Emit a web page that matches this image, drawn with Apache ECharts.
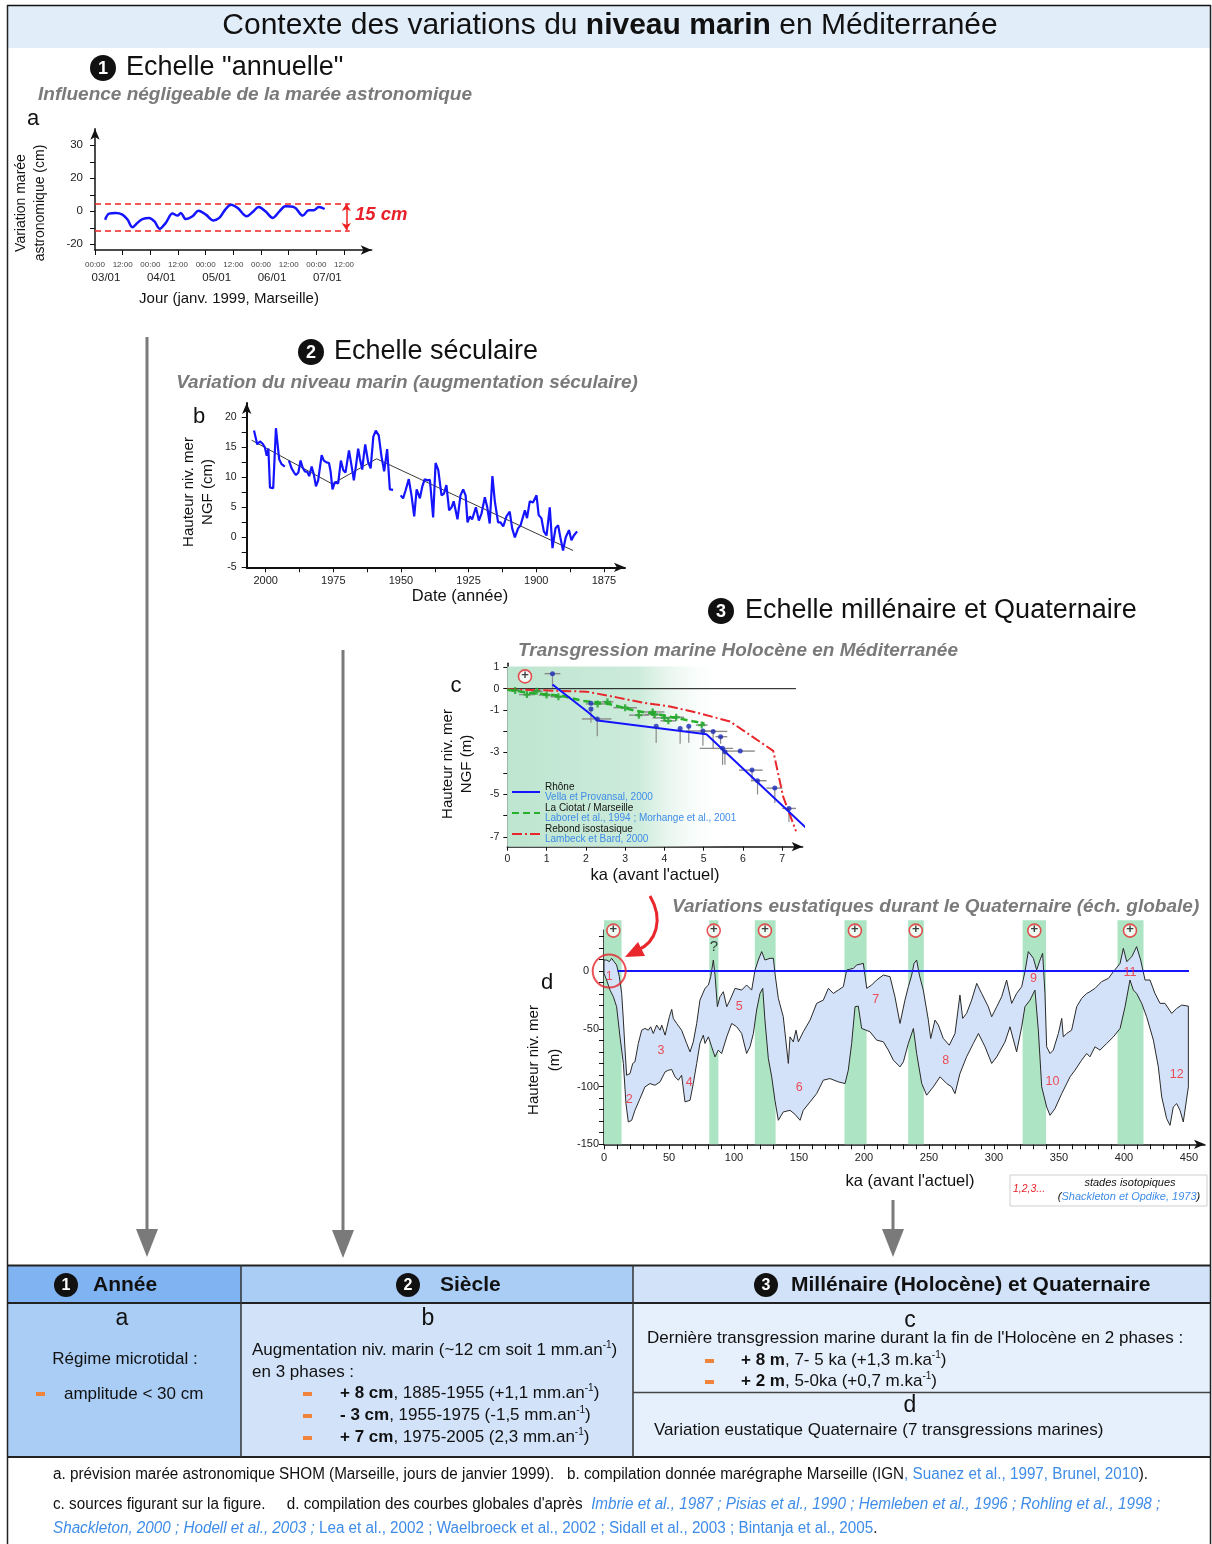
<!DOCTYPE html>
<html><head><meta charset="utf-8">
<script src="https://cdn.jsdelivr.net/npm/echarts@6/dist/echarts.min.js"></script>
<style>html,body{margin:0;padding:0;background:#fff}#c{width:1212px;height:1544px}</style>
</head><body><div id="c"></div><script>
// ---------- DATA : chart a (marée astronomique) ----------
const aHours = [4.4,6.1,9.0,11.9,14.1,16.2,18.4,20.6,23.5,25.7,28.1,30.7,33.6,35.8,37.2,39.4,42.3,44.9,48.1,51.3,53.9,56.5,59.0,61.9,65.8,68.4,71.0,73.9,77.1,80.0,82.6,86.5,90.1,92.7,94.8,97.1,99.6];
const aTide = [-5.1,-1.4,-1.0,-2.0,-5.0,-9.6,-7.0,-4.7,-4.0,-6.0,-10.6,-7.0,-1.4,-2.6,-1.0,-4.7,-3.0,0.4,-2.0,-5.5,-4.0,1.0,4.0,2.0,-3.0,-0.4,2.6,0.0,-4.0,0.0,3.0,2.4,-2.6,0.6,0.6,2.6,1.4];
const aRange = [4.8, -11.8];
const aTickHours = [0,12,24,36,48,60,72,84,96,108];
const aTickTimes = ['00:00','12:00','00:00','12:00','00:00','12:00','00:00','12:00','00:00','12:00'];
const aDateHours = [0,24,48,72,96];
const aDates = ['03/01','04/01','05/01','06/01','07/01'];
const aYTicks = [-20,-10,0,10,20,30,40];
const aYLabelValues = [-20,0,20,40];
const aYLabels = ['-20','0','20','30'];

// ---------- DATA : chart b (marégraphe Marseille) ----------
const bYears = [2004.3,2003.1,2002.1,2001.1,2000.3,1999.6,1999.0,1998.4,1997.2,1996.2,1995.0,1994.1,1992.9,1992.2,1991.4,1990.4,1989.5,1988.8,1987.9,1987.1,1986.3,1985.5,1984.6,1983.9,1983.0,1982.2,1981.4,1980.6,1979.3,1978.5,1977.5,1976.6,1976.0,1975.3,1974.4,1973.2,1972.2,1971.3,1970.5,1969.2,1968.2,1967.4,1966.6,1965.8,1965.2,1964.3,1963.9,1963.2,1962.1,1961.2,1960.2,1959.3,1958.2,1957.2,1956.2,1955.1,1954.1,1952.9,1951.5,1950.1,1949.2,1948.3,1947.1,1946.1,1945.1,1944.2,1943.6,1943.0,1942.1,1941.2,1940.3,1939.3,1938.1,1937.2,1936.2,1935.0,1934.1,1933.2,1932.2,1931.3,1930.5,1929.1,1928.0,1927.0,1926.1,1925.4,1924.5,1923.7,1922.3,1921.2,1920.2,1919.0,1918.1,1917.2,1916.2,1915.3,1914.1,1913.2,1912.2,1911.0,1909.8,1908.9,1907.9,1906.7,1905.8,1905.1,1904.2,1903.4,1902.4,1901.2,1899.9,1899.1,1898.1,1897.2,1896.2,1895.0,1894.0,1892.9,1891.9,1891.1,1890.1,1889.1,1887.9,1887.0,1886.1,1884.9];
const bLevel = [17.8,15.5,16.0,15.6,15.0,13.6,14.8,8.3,8.2,18.2,13.0,12.2,11.8,null,12.8,11.5,10.8,10.4,10.8,12.8,11.6,11.0,10.9,10.2,11.8,10.5,8.5,9.5,13.7,12.8,12.5,12.4,11.0,8.0,9.2,9.0,12.8,11.2,10.8,14.5,11.8,9.5,12.0,14.8,13.2,11.3,13.0,15.5,12.5,11.5,16.8,17.8,17.0,13.5,11.0,14.7,8.0,7.9,null,7.0,6.5,7.8,9.7,7.0,3.5,8.0,7.3,6.5,8.5,9.7,9.5,9.6,3.3,12.4,11.2,7.0,7.3,8.7,4.5,5.0,6.0,3.0,7.0,8.0,7.0,2.5,3.5,3.0,5.0,2.8,4.0,6.7,5.0,2.3,10.2,6.0,2.5,2.5,1.8,3.5,4.3,1.5,0.0,1.5,2.0,2.0,4.5,3.2,6.0,5.8,7.0,3.7,3.2,1.0,0.3,5.0,-1.8,1.5,2.0,0.0,-2.2,0.0,1.2,-0.5,0.3,1.0];
const bTrendYears = [2005.2,1975.4,1959.0,1886.4];
const bTrendLevel = [16.2,8.9,13.1,-2.2];
const bYTicks = [-5,-2.5,0,2.5,5,7.5,10,12.5,15,17.5,20];
const bYLabels = [-5,0,5,10,15,20];
const bXTicks = [1875,1887.5,1900,1912.5,1925,1937.5,1950,1962.5,1975,1987.5,2000];
const bXLabels = [1875,1900,1925,1950,1975,2000];

// ---------- DATA : chart c (Holocène) ----------
const cRhone = [[1.15,0.2],[2.05,-1.1],[2.3,-1.5],[5.07,-2.15],[7.66,-6.67]];
const cCiotat = [[0.0,-0.05],[0.58,-0.2],[1.0,-0.27],[1.42,-0.35],[1.93,-0.58],[2.52,-0.69],[2.86,-0.85],[3.28,-1.05],[3.79,-1.2],[4.3,-1.38],[4.72,-1.54],[5.02,-1.65]];
const cRebond = [[0.0,-0.03],[2.02,-0.14],[2.78,-0.41],[3.55,-0.69],[4.14,-0.84],[4.82,-1.13],[5.67,-1.55],[6.77,-2.94],[7.02,-5.09],[7.35,-6.74]];
// [ka, m, ka min, ka max, m min, m max]
const cBluePts = [[1.15,0.71,0.95,1.35,0.05,0.71],[2.13,-0.69,2.13,2.13,-0.69,-0.69],[2.13,-0.96,2.13,2.13,-1.6,-0.96],[2.29,-1.43,1.9,2.65,-2.25,-1.43],[3.79,-1.78,3.79,3.79,-2.55,-1.78],[4.40,-1.88,4.40,4.40,-2.6,-1.88],[4.62,-1.78,4.62,4.62,-2.55,-1.78],[4.98,-2.0,4.55,5.3,-2.7,-2.0],[5.24,-2.02,4.9,5.6,-2.8,-2.02],[5.43,-2.27,5.3,5.6,-2.6,-2.27],[5.48,-2.82,4.9,5.75,-3.6,-2.82],[5.54,-2.98,5.54,5.54,-3.6,-2.98],[5.93,-2.95,5.55,6.3,-2.95,-2.95],[6.23,-3.85,5.9,6.5,-4.3,-3.85],[6.37,-4.35,6.2,6.6,-5.0,-4.35],[6.81,-4.7,6.6,7.0,-5.4,-4.7],[7.17,-5.66,7.0,7.35,-6.3,-5.66]];
const cGreenPts = [[0.2,-0.08,0.05,0.35,-0.15,0.0],[0.5,-0.28,0.3,0.7,-0.4,-0.15],[0.75,-0.12,0.6,0.9,-0.2,-0.05],[1.0,-0.3,0.8,1.25,-0.4,-0.2],[1.3,-0.38,1.1,1.6,-0.45,-0.3],[2.3,-0.72,2.0,2.6,-0.8,-0.65],[2.55,-0.62,2.4,2.7,-0.7,-0.55],[3.0,-0.9,2.7,3.3,-1.0,-0.8],[3.35,-1.25,3.1,3.6,-1.35,-1.15],[3.7,-1.1,3.4,4.0,-1.3,-0.95],[3.75,-1.22,3.5,4.0,-1.35,-1.1],[4.0,-1.38,3.7,4.3,-1.5,-1.25],[4.1,-1.52,3.9,4.3,-1.6,-1.45],[4.3,-1.35,4.1,4.5,-1.45,-1.25],[4.95,-1.72,4.8,5.1,-1.8,-1.65]];
const cPlus = [[0.45,0.58]];
const cZeroLine = [[0,0],[7.35,0]];
const cShade = [0, 1.05, 5.6, -7.47];
const cLegendNames = ['Rhône','La Ciotat / Marseille','Rebond isostasique'];
const cLegendSources = ['Vella et Provansal, 2000','Laborel et al., 1994 ; Morhange et al., 2001','Lambeck et Bard, 2000'];
const cYTicks = [-7,-6,-5,-4,-3,-2,-1,0,1];
const cYLabels = [-7,-5,-3,-1,0,1];
const cXTicks = [0,1,2,3,4,5,6,7];

// ---------- DATA : chart d (Quaternaire) ----------
const dUpper = [[0,9.5],[2,9.5],[4.1,8.1],[5.9,11],[7.7,8.1],[9.7,5.2],[11.8,-4.9],[13.6,-19.4],[14.9,-42.5],[16.2,-68.5],[17.4,-90.2],[20,-88.8],[22.1,-80],[23.8,-78.6],[26.4,-62.7],[29,-51.2],[31.5,-49.7],[34.1,-51.2],[35.9,-48.3],[37.9,-54.1],[40.5,-46.8],[43.1,-51.2],[44.4,-46.8],[47,-55.5],[50.3,-39.6],[52.1,-33.2],[53.3,-41],[55.9,-45.4],[59.7,-51.2],[63.6,-62.7],[66.2,-70],[68.7,-61.3],[71.3,-45.4],[73.8,-25.2],[77.7,-15],[80.3,-12.1],[82.1,-4.9],[84.1,9.5],[85.4,-3.5],[87.2,-30.9],[89.2,-22.3],[91.8,-17.9],[94.4,-30.9],[96.9,-25.2],[100.8,-15],[105.9,-16.5],[109.7,-12.1],[113.6,-16.5],[116.2,0.9],[118.7,9.5],[121.3,16.8],[123.8,9.5],[127.7,11],[130.3,11],[131.5,-2],[134.1,-23.7],[137.9,-39.6],[141.8,-80],[143.1,-57],[145.6,-61.3],[147.7,-51.2],[149.5,-61.3],[153.3,-52.6],[158.5,-42.5],[163.6,-28],[168.7,-25.2],[172.6,-15],[176.4,-19.4],[180.3,-16.5],[184.1,-13.6],[186.7,0.9],[188.7,1.4],[191.8,2.3],[194.4,5.2],[199.5,6.6],[202.1,-15],[205.9,-12.1],[209.7,-7.8],[214.9,-3.5],[220,-4.9],[223.8,-22.3],[227.7,-45.4],[231.5,-25.2],[234.1,-13.6],[236.7,-3.5],[238.5,6.6],[240.5,9.5],[242.6,-3.5],[245.6,-16.5],[249.5,-42.5],[251.3,-58.4],[254.6,-42.5],[257.2,-46.8],[261,-58.4],[265.6,-64.2],[270,-54.1],[273.8,-20.8],[275.9,-41],[278.9,-36.7],[282.8,-25.2],[286.7,-10.7],[290.5,-19.4],[295.6,-30.9],[298.2,-39.6],[302.1,-30.9],[305.9,-22.3],[309.7,-7.8],[313.6,-28],[317.4,-19.4],[321.3,-13.6],[323.8,-0.6],[326.4,16.8],[330.3,11],[332.8,0.9],[335.4,9.5],[337.4,15.3],[339.2,-19.4],[340.5,-65.6],[343.1,-71.4],[345.6,-68.5],[349.5,-54.1],[352.1,-41],[353.3,-57],[355.9,-54.1],[359.7,-51.2],[363.6,-30.9],[367.4,-23.7],[371.3,-19.4],[373.8,-17.9],[377.7,-15],[382.8,-9.2],[388,-6.4],[391.8,-0.6],[397,6.6],[399.5,19.7],[402.1,8.1],[406,12.4],[409.7,21.1],[412.8,9.5],[416.2,-7.8],[420,-7.8],[423.8,-19.4],[427.7,-28],[431.5,-28],[436.7,-36.7],[440.5,-32.4],[444.4,-29.5],[449.5,-30.4]];
const dLower = [[0,-2],[2,-7.8],[4.6,-16.5],[7.2,-22.3],[9.7,-30.9],[12.3,-57],[14.9,-80],[16.9,-114.8],[18.7,-130.7],[21.3,-129.2],[23.8,-120.6],[27.7,-110.4],[31.5,-100.3],[35.4,-97.4],[39.2,-98.9],[43.1,-96],[47,-87.3],[49.5,-85.9],[52.1,-85.3],[54.6,-91.6],[57.2,-94.5],[59.7,-90.2],[62.3,-113.3],[66.2,-111.9],[68.7,-97.4],[71.3,-80],[73.8,-62.7],[76.4,-55.5],[77.7,-62.7],[80.3,-57],[82.8,-65.6],[85.4,-74.3],[87.9,-68.5],[90.5,-71.4],[94.4,-57],[98.2,-45.4],[102.1,-48.3],[105.9,-54.1],[109.7,-71.4],[112.3,-65.6],[114.9,-54.1],[117.4,-33.8],[120,-19.4],[122.1,-15],[123.8,-42.5],[126.4,-75.7],[129,-91.6],[131.5,-111.9],[134.1,-129.2],[137.9,-122],[143.1,-120.6],[146.9,-124],[150.8,-129.2],[153.3,-120.6],[158.5,-113.3],[163.6,-106.1],[168.7,-94.5],[173.8,-93.1],[180.3,-96],[185.4,-97.4],[187.9,-85.9],[190.5,-62.7],[193.1,-30.9],[195.6,-30.4],[198.2,-49.7],[204.6,-52.6],[209.7,-59.8],[214.9,-61.3],[218.7,-68.5],[222.6,-77.2],[227.7,-83],[230.3,-78.6],[234.1,-62.7],[238,-49.7],[240.5,-71.4],[244.4,-97.4],[248.2,-107.5],[253.3,-100.3],[258.5,-91.6],[263.6,-97.4],[267.4,-100.3],[270,-106.1],[273.8,-88.8],[278.9,-74.3],[284.1,-62.7],[288,-54.1],[293.1,-65.6],[298.2,-80],[302.1,-74.3],[308.5,-61.3],[312.3,-48.3],[317.4,-70],[321.3,-48.3],[323.8,-30.9],[327.7,-25.2],[331.5,-16.5],[334.1,-51.2],[336.7,-100.3],[340.5,-117.7],[343.1,-124.9],[346.9,-119.1],[352.1,-106.1],[358.5,-91.6],[362.3,-85.9],[367.4,-77.2],[371.3,-71.4],[373.8,-74.3],[377.7,-65.6],[381.5,-68.5],[386.7,-62.7],[391.8,-57],[397,-49.7],[400.8,-30.9],[404.6,-7.8],[407.2,-16.5],[409.7,-19.4],[413.6,-28],[417.4,-39.6],[422.6,-59.8],[426.4,-83],[429,-109],[432.8,-127.8],[435.4,-133.6],[437.9,-117.7],[440.5,-114.8],[443.1,-120.6],[445.6,-130.7],[449.5,-100.3]];
const dBands = [[0,13.5],[81,88],[116,132],[185,202],[234,246],[322,340],[395,415]];
const dBandTop = 44;
const dPlus = [[7.2,35],[84.4,35],[123.8,35],[193,35],[239.8,35],[331,35],[404.6,35]];
const dStages = [[4,-5,'1'],[19.5,-111,'2'],[43.8,-68.5,'3'],[65.6,-96.9,'4'],[104,-30.4,'5'],[150.2,-100.9,'6'],[209,-24.6,'7'],[262.8,-77.8,'8'],[330.3,-6.4,'9'],[344.9,-96,'10'],[404.6,-1.4,'11'],[440.5,-89.6,'12']];
const dQuestion = [[84.6,21]];
const dStage1Circle = [[4,0]];
const dZeroLine = [[10.5,0],[450,0]];
const dYTicks = [-150,-140,-130,-120,-110,-100,-90,-80,-70,-60,-50,-40,-30,-20,-10,0,10,20,30];
const dYLabels = [-150,-100,-50,0];
const dXTicks = []; for (let v = 0; v <= 450; v += 10) dXTicks.push(v);
const dXLabels = [0,50,100,150,200,250,300,350,400,450];

// ---------- footer texts ----------
const foot1 = ['a. prévision marée astronomique SHOM (Marseille, jours de janvier 1999).   b. compilation donnée marégraphe Marseille (IGN', ', Suanez et al., 1997, Brunel, 2010', ').'];
const foot2 = ["c. sources figurant sur la figure.     d. compilation des courbes globales d'après  ", 'Imbrie et al., 1987 ; Pisias et al., 1990 ; Hemleben et al., 1996 ; Rohling et al., 1998 ;'];
const foot3 = ['Shackleton, 2000 ; Hodell et al., 2003 ;', ' Lea et al., 2002 ; Waelbroeck et al., 2002 ; Sidall et al., 2003 ; Bintanja et al., 2005', '.'];

// ---------- helpers ----------
const FF = '"Liberation Sans", Arial, Helvetica, sans-serif';
const BLUE_REF = '#3f8ce8';
const ORANGE = '#f0843a';
function rs(o) { if (o.color) o.fill = o.color; return o; }   // rich style for graphic text (zrender uses fill)
function txt(x, y, text, size, o) {
  o = o || {};
  const st = { text: text, fill: o.color || '#111', fontSize: size, fontFamily: o.ff || FF,
    fontWeight: o.bold ? 'bold' : 'normal', fontStyle: o.italic ? 'italic' : 'normal',
    align: o.align || 'left', verticalAlign: o.va || 'middle',
    textAlign: o.align || 'left', textVerticalAlign: o.va || 'middle' };
  if (o.rich) { const r = {}; Object.keys(o.rich).forEach(k => { r[k] = rs(Object.assign({}, o.rich[k])); }); st.rich = r; }
  if (o.lh) st.lineHeight = o.lh;
  const el = { type: 'text', x: x, y: y, rotation: o.rot || 0, z: 20, silent: true, style: st };
  if (o.sx) el.scaleX = o.sx;
  return el;
}
function rect(x, y, w, h, fill, o) {
  o = o || {};
  return { type: 'rect', shape: { x: x, y: y, width: w, height: h }, z: o.z || 5, silent: true,
    style: { fill: fill, stroke: o.stroke || null, lineWidth: o.lw || 0 } };
}
function line(x1, y1, x2, y2, color, w, z) {
  return { type: 'line', shape: { x1: x1, y1: y1, x2: x2, y2: y2 }, z: z || 6, silent: true,
    style: { stroke: color, lineWidth: w } };
}
function numCircle(cx, cy, r, n, size) {
  return [
    { type: 'circle', shape: { cx: cx, cy: cy, r: r }, z: 19, silent: true, style: { fill: '#111' } },
    txt(cx, cy + 1, n, size, { color: '#fff', bold: true, align: 'center' })
  ];
}
function grayArrow(x, y1, y2) {
  return [
    line(x, y1, x, y2 - 26, '#7a7a7a', 3, 6),
    { type: 'polygon', shape: { points: [[x - 11, y2 - 28], [x + 11, y2 - 28], [x, y2]] }, z: 6, silent: true, style: { fill: '#7a7a7a' } }
  ];
}
function pick(vals, labels) { return function (v) { const i = vals.indexOf(v); return i < 0 ? '' : String(labels[i]); }; }
const axisCol = '#111';
function vAxis(o) {
  return Object.assign({
    type: 'value', splitLine: { show: false }, scale: false,
    axisLine: { show: true, onZero: false, lineStyle: { color: axisCol, width: 1.5 } },
    axisTick: { show: true, length: 4, lineStyle: { color: axisCol, width: 1 } },
    axisLabel: { color: '#222', fontFamily: FF, fontSize: 10 }
  }, o);
}
function errRender(params, api) {
  const x = api.value(0), y = api.value(1);
  const a = api.coord([api.value(2), y]), b = api.coord([api.value(3), y]);
  const c = api.coord([x, api.value(4)]), d = api.coord([x, api.value(5)]);
  return { type: 'group', children: [
    { type: 'line', shape: { x1: a[0], y1: a[1], x2: b[0], y2: b[1] }, style: { stroke: '#8a8a8a', lineWidth: 1.4 } },
    { type: 'line', shape: { x1: c[0], y1: c[1], x2: d[0], y2: d[1] }, style: { stroke: '#8a8a8a', lineWidth: 1.2 } }
  ] };
}
const plusLabel = { show: true, formatter: '+', position: 'inside', color: '#111', fontSize: 13, fontWeight: 'bold', fontFamily: FF, offset: [0, -1] };

// footer horizontal compression computed from text measure (narrow font look)
const mctx = document.createElement('canvas').getContext('2d');
mctx.font = '16px "Liberation Sans"';
const footScale = Math.min(1, 1095 / mctx.measureText(foot1.join('')).width);

// ---------- graphic (texts, frame, table) ----------
const G = [];
G.push(rect(7, 5, 1204, 43, '#e2edfa', { z: 1 }));
G.push(line(7, 5.5, 1211, 5.5, '#111', 1.5, 7));
G.push(line(7.5, 5, 7.5, 1544, '#222', 1.5, 7));
G.push(line(1210.5, 5, 1210.5, 1544, '#222', 1.5, 7));
G.push(txt(610, 26, '{r|Contexte des variations du }{b|niveau marin}{r| en Méditerranée}', 30, { align: 'center',
  rich: { r: { fontSize: 30, fontFamily: FF, color: '#111' }, b: { fontSize: 30, fontFamily: FF, fontWeight: 'bold', color: '#111' } } }));
// section 1
G.push(...numCircle(103, 68, 13, '1', 18));
G.push(txt(126, 68, 'Echelle "annuelle"', 27));
G.push(txt(38, 95, 'Influence négligeable de la marée astronomique', 19, { bold: true, italic: true, color: '#7a7a7a' }));
G.push(txt(33, 119, 'a', 22, { align: 'center' }));
G.push(txt(31, 203, 'Variation marée\nastronomique (cm)', 14, { align: 'center', rot: Math.PI / 2, lh: 19 }));
G.push(txt(355, 215, '15 cm', 18.5, { bold: true, italic: true, color: '#e8202a' }));
G.push(txt(229, 299, 'Jour (janv. 1999, Marseille)', 15, { align: 'center' }));
// section 2
G.push(...numCircle(311, 352, 13, '2', 18));
G.push(txt(334, 352, 'Echelle séculaire', 27));
G.push(txt(407, 383, 'Variation du niveau marin (augmentation séculaire)', 19, { bold: true, italic: true, color: '#7a7a7a', align: 'center' }));
G.push(txt(199, 417, 'b', 22, { align: 'center' }));
G.push(txt(198, 492, 'Hauteur niv. mer\nNGF (cm)', 15, { align: 'center', rot: Math.PI / 2, lh: 19 }));
G.push(txt(460, 596, 'Date (année)', 16.5, { align: 'center' }));
// section 3
G.push(...numCircle(721, 611, 13, '3', 18));
G.push(txt(745, 611, 'Echelle millénaire et Quaternaire', 27));
G.push(txt(518, 651, 'Transgression marine Holocène en Méditerranée', 19, { bold: true, italic: true, color: '#7a7a7a' }));
G.push(txt(456, 686, 'c', 22, { align: 'center' }));
G.push(txt(457, 764, 'Hauteur niv. mer\nNGF (m)', 15, { align: 'center', rot: Math.PI / 2, lh: 19 }));
G.push(txt(655, 875, "ka (avant l'actuel)", 16.5, { align: 'center' }));
G.push(txt(672, 907, 'Variations eustatiques durant le Quaternaire (éch. globale)', 19, { bold: true, italic: true, color: '#7a7a7a' }));
G.push(txt(547, 983, 'd', 22, { align: 'center' }));
G.push(txt(544, 1060, 'Hauteur niv. mer\n(m)', 15, { align: 'center', rot: Math.PI / 2, lh: 21 }));
G.push(txt(910, 1181, "ka (avant l'actuel)", 16.5, { align: 'center' }));
// d legend box
G.push(rect(1010, 1175, 197, 31, '#fff', { stroke: '#cfcfcf', lw: 1, z: 5 }));
G.push(txt(1013, 1189, '1,2,3...', 10.5, { italic: true, color: '#e8202a' }));
G.push(txt(1130, 1183, 'stades isotopiques', 11, { italic: true, align: 'center' }));
G.push(txt(1129, 1197, '{k|(}{l|Shackleton et Opdike, 1973}{k|)}', 11, { align: 'center',
  rich: { k: { fontSize: 11, fontStyle: 'italic', color: '#111', fontFamily: FF }, l: { fontSize: 11, fontStyle: 'italic', color: BLUE_REF, fontFamily: FF } } }));
// red curved arrow (chart d)
G.push({ type: 'bezierCurve', z: 8, silent: true, shape: { x1: 650, y1: 896, cpx1: 664, cpy1: 920, cpx2: 656, cpy2: 942, x2: 638, y2: 950 },
  style: { stroke: '#e8262c', lineWidth: 3, fill: null } });
G.push({ type: 'polygon', z: 8, silent: true, shape: { points: [[625, 957], [638, 942], [645, 956]] }, style: { fill: '#e8262c' } });
// gray arrows
G.push(...grayArrow(147, 337, 1257));
G.push(...grayArrow(343, 650, 1258));
G.push(...grayArrow(893, 1200, 1257));
// table backgrounds
G.push(rect(8, 1266, 233, 37, '#80b3f2'));
G.push(rect(241, 1266, 392, 37, '#aacdf6'));
G.push(rect(633, 1266, 578, 37, '#d2e3f9'));
G.push(rect(8, 1303, 233, 154, '#aacdf6'));
G.push(rect(241, 1303, 392, 154, '#d2e3f9'));
G.push(rect(633, 1303, 578, 154, '#e6effc'));
G.push(line(7, 1265.5, 1211, 1265.5, '#222', 2));
G.push(line(7, 1303, 1211, 1303, '#222', 2));
G.push(line(7, 1457, 1211, 1457, '#222', 2));
G.push(line(241, 1265, 241, 1457, '#333', 1.5));
G.push(line(633, 1265, 633, 1457, '#333', 1.5));
G.push(line(633, 1392.5, 1211, 1392.5, '#444', 1.5));
// table header
G.push(...numCircle(66, 1285, 12, '1', 16));
G.push(txt(93, 1285, 'Année', 21, { bold: true }));
G.push(...numCircle(408, 1285, 12, '2', 16));
G.push(txt(440, 1285, 'Siècle', 21, { bold: true }));
G.push(...numCircle(766, 1285, 12, '3', 16));
G.push(txt(791, 1285, 'Millénaire (Holocène) et Quaternaire', 21, { bold: true }));
// table body
const RT = { r: { fontSize: 17, fontFamily: FF, color: '#111', lineHeight: 20 }, b: { fontSize: 17, fontFamily: FF, fontWeight: 'bold', color: '#111', lineHeight: 20 },
  s: { fontSize: 10, fontFamily: FF, color: '#111', verticalAlign: 'top', lineHeight: 11 } };
function rl(x, y, s) { return txt(x, y, s, 17, { rich: RT }); }
G.push(txt(122, 1319, 'a', 23, { align: 'center' }));
G.push(txt(125, 1359, 'Régime microtidal :', 17, { align: 'center' }));
G.push(rect(36, 1392, 9, 4, ORANGE, { z: 8 }));
G.push(txt(64, 1394, 'amplitude < 30 cm', 17));
G.push(txt(428, 1319, 'b', 23, { align: 'center' }));
G.push(rl(252, 1350, '{r|Augmentation niv. marin (~12 cm soit 1 mm.an}{s|-1}{r|)}'));
G.push(txt(252, 1372, 'en 3 phases :', 17));
G.push(rect(303, 1392, 9, 4, ORANGE, { z: 8 }));
G.push(rect(303, 1414, 9, 4, ORANGE, { z: 8 }));
G.push(rect(303, 1436, 9, 4, ORANGE, { z: 8 }));
G.push(rl(340, 1393, '{b|+ 8 cm}{r|, 1885-1955 (+1,1 mm.an}{s|-1}{r|)}'));
G.push(rl(340, 1415, '{b|- 3 cm}{r|, 1955-1975 (-1,5 mm.an}{s|-1}{r|)}'));
G.push(rl(340, 1437, '{b|+ 7 cm}{r|, 1975-2005 (2,3 mm.an}{s|-1}{r|)}'));
G.push(txt(910, 1321, 'c', 23, { align: 'center' }));
G.push(txt(647, 1338, "Dernière transgression marine durant la fin de l'Holocène en 2 phases :", 17));
G.push(rect(705, 1359, 9, 4, ORANGE, { z: 8 }));
G.push(rect(705, 1380, 9, 4, ORANGE, { z: 8 }));
G.push(rl(741, 1360, '{b|+ 8 m}{r|, 7- 5 ka (+1,3 m.ka}{s|-1}{r|)}'));
G.push(rl(741, 1381, '{b|+ 2 m}{r|, 5-0ka (+0,7 m.ka}{s|-1}{r|)}'));
G.push(txt(910, 1406, 'd', 23, { align: 'center' }));
G.push(txt(654, 1430, 'Variation eustatique Quaternaire (7 transgressions marines)', 17));
// footer
const RF = { n: { fontSize: 16, fontFamily: FF, color: '#111' }, l: { fontSize: 16, fontFamily: FF, color: BLUE_REF }, li: { fontSize: 16, fontFamily: FF, color: BLUE_REF, fontStyle: 'italic' } };
G.push(txt(53, 1475, '{n|' + foot1[0] + '}{l|' + foot1[1] + '}{n|' + foot1[2] + '}', 16, { rich: RF, sx: footScale }));
G.push(txt(53, 1505, '{n|' + foot2[0] + '}{li|' + foot2[1] + '}', 16, { rich: RF, sx: footScale }));
G.push(txt(53, 1529, '{li|' + foot3[0] + '}{l|' + foot3[1] + '}{n|' + foot3[2] + '}', 16, { rich: RF, sx: footScale }));

// ---------- option ----------
const option = {
  animation: false,
  backgroundColor: '#fff',
  graphic: { elements: G },
  legend: {
    data: cLegendNames, orient: 'vertical', left: 511, top: 782, itemWidth: 28, itemHeight: 12, itemGap: 1, padding: 0,
    selectedMode: false, itemStyle: { opacity: 0 },
    formatter: function (name) { return '{n|' + name + '}\n{s|' + cLegendSources[cLegendNames.indexOf(name)] + '}'; },
    textStyle: { rich: { n: { fontSize: 10, color: '#111', fontFamily: FF, lineHeight: 10 }, s: { fontSize: 10, color: BLUE_REF, fontFamily: FF, lineHeight: 10 } } }
  },
  grid: [
    { left: 95, top: 128.8, width: 276.7, height: 121.2 },
    { left: 246.7, top: 403, width: 378.3, height: 164.3 },
    { left: 507.3, top: 663.3, width: 295.4, height: 183.4 },
    { left: 604, top: 930, width: 601, height: 214.3 }
  ],
  xAxis: [
    vAxis({ gridIndex: 0, min: 0, max: 120,
      axisLine: { show: true, onZero: false, symbol: ['none', 'arrow'], symbolSize: [7, 11], lineStyle: { color: axisCol, width: 1.5 } },
      axisTick: { show: true, length: 5, customValues: aTickHours, lineStyle: { color: axisCol } },
      axisLabel: { customValues: aTickHours, margin: 11, showMinLabel: true, showMaxLabel: true, hideOverlap: false,
        formatter: pick(aTickHours, aTickTimes), fontSize: 8, color: '#444', fontFamily: FF } }),
    vAxis({ gridIndex: 1, inverse: true, min: 1867.2, max: 2007,
      axisLine: { show: true, onZero: false, symbol: ['none', 'arrow'], symbolSize: [7, 11], lineStyle: { color: axisCol, width: 2 } },
      axisTick: { show: true, length: 5, customValues: bXTicks, lineStyle: { color: axisCol } },
      axisLabel: { customValues: bXLabels, margin: 8, fontSize: 11, color: '#222', fontFamily: FF, showMinLabel: true, showMaxLabel: true, formatter: v => String(v) } }),
    vAxis({ gridIndex: 2, min: 0, max: 7.52,
      axisLine: { show: true, onZero: false, symbol: ['none', 'arrow'], symbolSize: [7, 11], lineStyle: { color: axisCol, width: 1.5 } },
      axisTick: { show: true, length: 4, customValues: cXTicks, lineStyle: { color: axisCol } },
      axisLabel: { customValues: cXTicks, margin: 7, fontSize: 10.5, color: '#222', fontFamily: FF, showMinLabel: true, showMaxLabel: true } }),
    vAxis({ gridIndex: 3, min: 0, max: 462.3,
      axisLine: { show: true, onZero: false, symbol: ['none', 'arrow'], symbolSize: [7, 11], lineStyle: { color: axisCol, width: 1.5 } },
      axisTick: { show: true, length: 5, customValues: dXTicks, lineStyle: { color: axisCol } },
      axisLabel: { customValues: dXLabels, margin: 8, fontSize: 11, color: '#222', fontFamily: FF, showMinLabel: true, showMaxLabel: true } }),
    // chart a : second label row (dates)
    vAxis({ gridIndex: 0, min: 0, max: 120, position: 'bottom',
      axisLine: { show: false, onZero: false }, axisTick: { show: false },
      axisLabel: { customValues: aDateHours, margin: 22, showMinLabel: true, showMaxLabel: true, hideOverlap: false,
        formatter: v => '{d|' + pick(aDateHours, aDates)(v) + '}',
        rich: { d: { fontSize: 11.5, color: '#222', fontFamily: FF, padding: [0, 0, 0, 22] } } } })
  ],
  yAxis: [
    vAxis({ gridIndex: 0, min: -23.45, max: 50,
      axisLine: { show: true, onZero: false, symbol: ['none', 'arrow'], symbolSize: [7, 11], lineStyle: { color: axisCol, width: 1.5 } },
      axisTick: { show: true, length: 5, customValues: aYTicks, lineStyle: { color: axisCol } },
      axisLabel: { customValues: aYLabelValues, formatter: pick(aYLabelValues, aYLabels), margin: 12, fontSize: 11.5, color: '#222', fontFamily: FF, showMinLabel: true, showMaxLabel: true } }),
    vAxis({ gridIndex: 1, min: -5, max: 22.4,
      axisLine: { show: true, onZero: false, symbol: ['none', 'arrow'], symbolSize: [7, 11], lineStyle: { color: axisCol, width: 2 } },
      axisTick: { show: true, length: 5, customValues: bYTicks, lineStyle: { color: axisCol } },
      axisLabel: { customValues: bYLabels, margin: 10, fontSize: 10.5, color: '#222', fontFamily: FF, showMinLabel: true, showMaxLabel: true } }),
    vAxis({ gridIndex: 2, min: -7.47, max: 1.2,
      axisLine: { show: true, onZero: false, lineStyle: { color: axisCol, width: 1.5 } },
      axisTick: { show: true, length: 4, customValues: cYTicks, lineStyle: { color: axisCol } },
      axisLabel: { customValues: cYLabels, margin: 8, fontSize: 10.5, color: '#222', fontFamily: FF, showMinLabel: true, showMaxLabel: true } }),
    vAxis({ gridIndex: 3, min: -150, max: 35.5,
      axisLine: { show: true, onZero: false, lineStyle: { color: axisCol, width: 1.5 } },
      axisTick: { show: true, length: 5, customValues: dYTicks, lineStyle: { color: axisCol } },
      axisLabel: { customValues: dYLabels, margin: 5, fontSize: 11, color: '#222', fontFamily: FF, showMinLabel: true, showMaxLabel: true,
        formatter: v => v === 0 ? '{z|0}' : String(v), rich: { z: { fontSize: 11, color: '#222', fontFamily: FF, padding: [0, 10, 0, 0] } } } })
  ],
  series: [
    // ----- a -----
    { type: 'line', name: 'marée', xAxisIndex: 0, yAxisIndex: 0, data: aHours.map((h, i) => [h, aTide[i]]),
      smooth: 0.35, showSymbol: false, symbol: 'none', lineStyle: { color: '#1414ff', width: 2.5 }, z: 5,
      markLine: { silent: true, symbol: 'none', label: { show: false }, lineStyle: { color: '#ee2222', type: [6, 4], width: 1.5 },
        data: [[{ coord: [0, aRange[0]] }, { coord: [110.5, aRange[0]] }], [{ coord: [0, aRange[1]] }, { coord: [110.5, aRange[1]] }]] } },
    { type: 'line', name: 'amp', xAxisIndex: 0, yAxisIndex: 0, data: [], silent: true,
      markLine: { silent: true, symbol: ['arrow', 'arrow'], symbolSize: 7, label: { show: false }, lineStyle: { color: '#ee2222', type: 'solid', width: 1.5 },
        data: [[{ coord: [109, aRange[0] - 0.4] }, { coord: [109, aRange[1] + 0.4] }]] } },
    // ----- b -----
    { type: 'line', name: 'trend', xAxisIndex: 1, yAxisIndex: 1, data: bTrendYears.map((y, i) => [y, bTrendLevel[i]]),
      showSymbol: false, symbol: 'none', lineStyle: { color: '#3a3a3a', width: 1 }, z: 4 },
    { type: 'line', name: 'niveau', xAxisIndex: 1, yAxisIndex: 1, data: bYears.map((y, i) => [y, bLevel[i]]),
      connectNulls: false, showSymbol: false, symbol: 'none', lineStyle: { color: '#1414ff', width: 2.2 }, z: 5 },
    // ----- c -----
    { type: 'line', name: 'zero', xAxisIndex: 2, yAxisIndex: 2, data: cZeroLine, showSymbol: false, symbol: 'none',
      lineStyle: { color: '#111', width: 1 }, z: 3,
      markArea: { silent: true, itemStyle: { color: { type: 'linear', x: 0, y: 0, x2: 1, y2: 0,
        colorStops: [{ offset: 0, color: '#bde5cf' }, { offset: 0.6, color: '#cdebdb' }, { offset: 1, color: 'rgba(255,255,255,0)' }] } },
        data: [[{ coord: [cShade[0], cShade[1]] }, { coord: [cShade[2], cShade[3]] }]] } },
    { type: 'custom', name: 'errB', xAxisIndex: 2, yAxisIndex: 2, data: cBluePts, renderItem: errRender, encode: { x: 0, y: 1 }, z: 3, silent: true },
    { type: 'custom', name: 'errG', xAxisIndex: 2, yAxisIndex: 2, data: cGreenPts, renderItem: errRender, encode: { x: 0, y: 1 }, z: 3, silent: true },
    { type: 'line', name: cLegendNames[2], xAxisIndex: 2, yAxisIndex: 2, data: cRebond, showSymbol: false, symbol: 'none',
      lineStyle: { color: '#e8262c', width: 2, type: [10, 3, 2, 3] }, itemStyle: { color: '#e8262c' }, z: 5 },
    { type: 'line', name: cLegendNames[1], xAxisIndex: 2, yAxisIndex: 2, data: cCiotat, showSymbol: false, symbol: 'none',
      lineStyle: { color: '#27b02c', width: 2.5, type: [7, 4] }, itemStyle: { color: '#27b02c' }, z: 5 },
    { type: 'line', name: cLegendNames[0], xAxisIndex: 2, yAxisIndex: 2, data: cRhone, showSymbol: false, symbol: 'none', clip: false,
      lineStyle: { color: '#1414ff', width: 2 }, itemStyle: { color: '#1414ff' }, z: 6 },
    { type: 'scatter', name: 'ptsG', xAxisIndex: 2, yAxisIndex: 2, data: cGreenPts.map(p => [p[0], p[1]]), symbol: 'path://M2,0h2v2h2v2h-2v2h-2v-2h-2v-2h2z', symbolSize: 7,
      itemStyle: { color: '#22a82a' }, z: 7, silent: true },
    { type: 'scatter', name: 'ptsB', xAxisIndex: 2, yAxisIndex: 2, data: cBluePts.map(p => [p[0], p[1]]), symbol: 'circle', symbolSize: 5,
      itemStyle: { color: '#1c2ab8' }, z: 7, silent: true },
    { type: 'scatter', name: 'plusC', xAxisIndex: 2, yAxisIndex: 2, data: cPlus, symbol: 'circle', symbolSize: 13,
      itemStyle: { color: '#fff', borderColor: '#e3262b', borderWidth: 1.6 }, label: plusLabel, z: 8, silent: true },
    // ----- d -----
    { type: 'custom', name: 'bands', xAxisIndex: 3, yAxisIndex: 3, data: dBands, encode: { x: [0, 1] }, clip: false, silent: true, z: 1,
      renderItem: function (params, api) {
        const p0 = api.coord([api.value(0), dBandTop]), p1 = api.coord([api.value(1), -150]);
        return { type: 'rect', shape: { x: p0[0], y: p0[1], width: p1[0] - p0[0], height: p1[1] - p0[1] }, style: { fill: '#ade4c3' } };
      } },
    { type: 'custom', name: 'envelope', xAxisIndex: 3, yAxisIndex: 3, data: [[0, 0]], encode: { x: 0, y: 1 }, clip: false, silent: true, z: 2,
      renderItem: function (params, api) {
        const pts = dUpper.map(p => api.coord(p));
        for (let i = dLower.length - 1; i >= 0; i--) pts.push(api.coord(dLower[i]));
        return { type: 'polygon', shape: { points: pts }, style: { fill: '#d4e2f9', stroke: '#2a2a2a', lineWidth: 1 } };
      } },
    { type: 'line', name: 'zeroD', xAxisIndex: 3, yAxisIndex: 3, data: dZeroLine, showSymbol: false, symbol: 'none',
      lineStyle: { color: '#1414ff', width: 2 }, z: 3 },
    { type: 'scatter', name: 'stages', xAxisIndex: 3, yAxisIndex: 3, data: dStages, symbolSize: 1, itemStyle: { color: 'rgba(0,0,0,0)' }, z: 6, silent: true,
      label: { show: true, position: 'inside', formatter: p => p.data[2], color: '#f0262c', fontSize: 12.5, fontFamily: FF } },
    { type: 'scatter', name: 'circle1', xAxisIndex: 3, yAxisIndex: 3, data: dStage1Circle, symbol: 'circle', symbolSize: 33, z: 6, silent: true,
      itemStyle: { color: 'rgba(0,0,0,0)', borderColor: '#e3262b', borderWidth: 2 } },
    { type: 'scatter', name: 'plusD', xAxisIndex: 3, yAxisIndex: 3, data: dPlus, symbol: 'circle', symbolSize: 13, z: 7, silent: true,
      itemStyle: { color: '#fff', borderColor: '#e3262b', borderWidth: 1.6 }, label: plusLabel },
    { type: 'scatter', name: 'question', xAxisIndex: 3, yAxisIndex: 3, data: dQuestion, symbolSize: 1, itemStyle: { color: 'rgba(0,0,0,0)' }, z: 7, silent: true,
      label: { show: true, position: 'inside', formatter: '?', color: '#111', fontSize: 15, fontFamily: FF } }
  ]
};
const chart = echarts.init(document.getElementById('c'), null, { renderer: 'canvas', width: 1212, height: 1544 });
chart.setOption(option);
</script></body></html>
